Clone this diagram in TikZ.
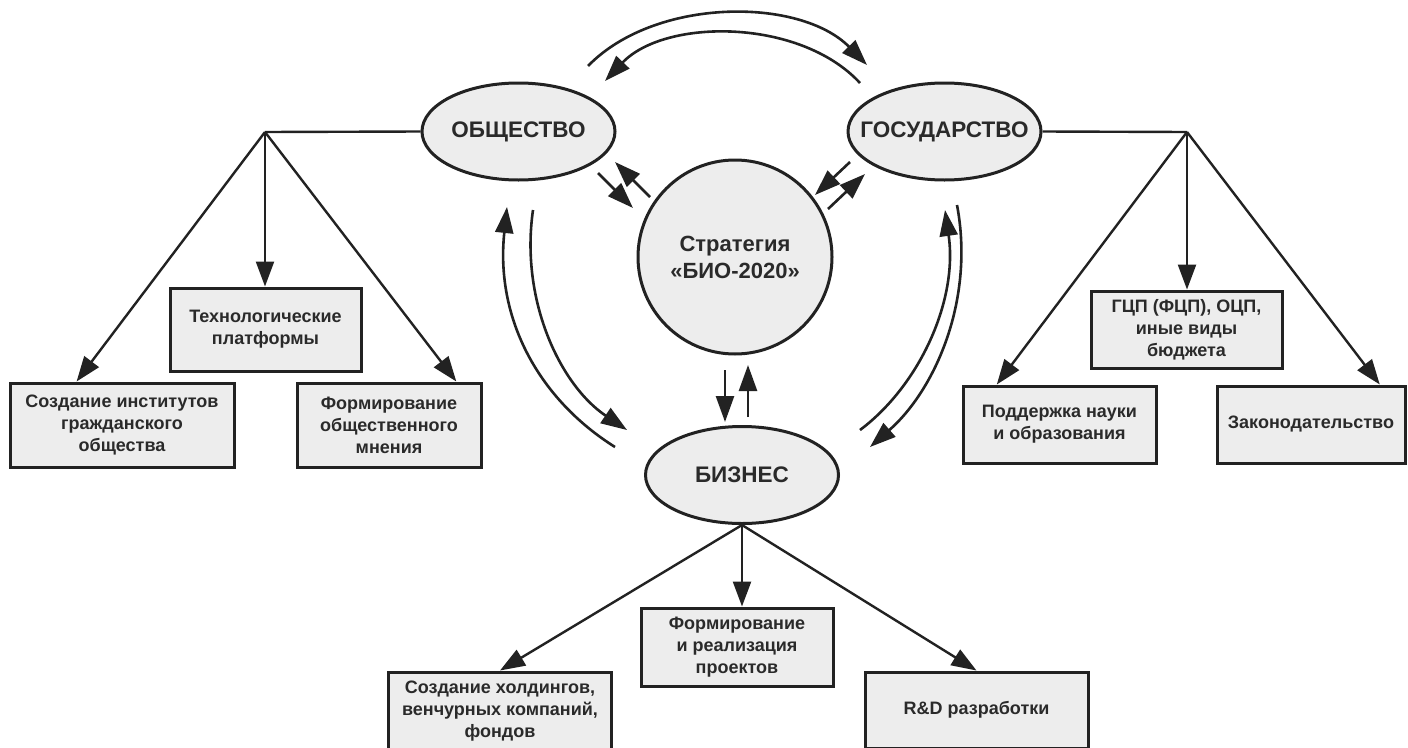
\documentclass[tikz,border=0pt]{standalone}
\usepackage{fontspec}
\setmainfont{Liberation Sans}
\usetikzlibrary{shapes.geometric,arrows.meta,calc}
\definecolor{fillg}{HTML}{EDEDED}
\definecolor{lineg}{HTML}{222222}
\definecolor{textg}{HTML}{2A2A2A}
\begin{document}
\begin{tikzpicture}[x=1pt,y=-1pt,
  ell/.style={ellipse,draw=lineg,fill=fillg,line width=3pt,minimum width=193pt,minimum height=97pt,inner sep=0pt},
  etext/.style={font=\bfseries\fontsize{22.5}{26}\selectfont,text=textg,inner sep=0pt},
  ctext/.style={font=\bfseries\fontsize{22}{27}\selectfont,text=textg,inner sep=0pt,align=center},
  boxn/.style={rectangle,draw=lineg,fill=fillg,line width=3pt,inner sep=0pt,align=center,font=\bfseries\fontsize{18}{22}\selectfont,text=textg},
  conn/.style={draw=lineg,line width=2.4pt},
  arr/.style={conn,-{Triangle[length=25pt,width=18pt]}},
  sarr/.style={conn,line width=2.6pt,-{Triangle[length=26pt,width=18pt]}},
]
\useasboundingbox (0,0) rectangle (1408,747);
\clip (0,0) rectangle (1408,747);
\fill[white] (0,0) rectangle (1408,747);

% main nodes
\node[ell] (obs) at (518.5,131.5) {};
\node[etext] (obst) at (obs) {ОБЩЕСТВО};
\node[ell] (gos) at (944.5,131.5) {};
\node[etext] (gost) at (gos) {ГОСУДАРСТВО};
\node[ell] (biz) at (742,475) {};
\node[etext] (bizt) at (biz) {БИЗНЕС};
\node[circle,draw=lineg,fill=fillg,line width=3pt,minimum size=194pt,inner sep=0pt] (str) at (735,257) {};
\node[ctext] (strt) at (str) {Стратегия\\«БИО-2020»};

% boxes
\node[boxn,minimum width=224pt,minimum height=84pt] (b1) at (122,425) {Создание институтов\\гражданского\\общества};
\node[boxn,minimum width=191pt,minimum height=83pt] (b2) at (265.5,329.5) {Технологические\\платформы};
\node[boxn,minimum width=184pt,minimum height=84pt] (b3) at (389,425) {Формирование\\общественного\\мнения};
\node[boxn,minimum width=191pt,minimum height=77pt] (b4) at (1186.5,329.5) {ГЦП (ФЦП), ОЦП,\\иные виды\\бюджета};
\node[boxn,minimum width=193pt,minimum height=77pt] (b5) at (1059.5,424.5) {Поддержка науки\\и образования};
\node[boxn,minimum width=188pt,minimum height=77pt] (b6) at (1311,424.5) {Законодательство};
\node[boxn,minimum width=192pt,minimum height=78pt] (b7) at (737,647) {Формирование\\и реализация\\проектов};
\node[boxn,minimum width=223pt,minimum height=79pt] (b8) at (500,711.5) {Создание холдингов,\\венчурных компаний,\\фондов};
\node[boxn,minimum width=223pt,minimum height=76pt] (b9) at (976.5,710) {R\&D разработки};

% left branch
\coordinate (j1) at (265,132);
\draw[conn] (obs.west) -- (j1);
\draw[arr] (j1) -- ($(b1.north west)!0.3!(b1.north east)$);
\draw[arr] (j1) -- (j1 |- b2.north);
\draw[arr] (j1) -- ($(b3.north west)!0.86!(b3.north east)$);

% right branch
\coordinate (j2) at (1187,132);
\draw[conn] (gos.east) -- (j2);
\draw[arr] (j2) -- ($(b5.north west)!0.18!(b5.north east)$);
\draw[arr] (j2) -- (j2 |- b4.north);
\draw[arr] (j2) -- ($(b6.north west)!0.86!(b6.north east)$);

% bottom branch
\draw[arr] (biz.south) -- (b8.north);
\draw[arr] (biz.south) -- (biz.south |- b7.north);
\draw[arr] (biz.south) -- (b9.north);

% top arcs
\coordinate (t1s) at (588,66);
\coordinate (t1e) at (867,65);
\coordinate (t2s) at (860,83);
\coordinate (t2e) at (605,81);
\draw[sarr] (t1s) .. controls (655,-3) and (800,-3) .. (t1e);
\draw[sarr] (t2s) .. controls (800,18) and (665,18) .. (t2e);

% left arcs
\coordinate (l1s) at (533,210);
\coordinate (l1e) at (627,430);
\coordinate (l2s) at (615,447);
\coordinate (l2e) at (507,207);
\draw[sarr] (l1s) .. controls (520,300) and (560,385) .. (l1e);
\draw[sarr] (l2s) .. controls (540,400) and (495,320) .. (l2e);

% right arcs
\coordinate (r1s) at (957,205);
\coordinate (r1e) at (870,447);
\coordinate (r2s) at (860,430);
\coordinate (r2e) at (945,210);
\draw[sarr] (r1s) .. controls (975,300) and (935,390) .. (r1e);
\draw[sarr] (r2s) .. controls (920,385) and (958,300) .. (r2e);

% short arrows
\coordinate (s1s) at (598,173); \coordinate (s1e) at (633,208);
\coordinate (s2s) at (650,197); \coordinate (s2e) at (615,162);
\coordinate (s3s) at (850,162); \coordinate (s3e) at (815,195);
\coordinate (s4s) at (828,209); \coordinate (s4e) at (865,174);
\coordinate (s5s) at (725,370); \coordinate (s5e) at (725,422);
\coordinate (s6s) at (748,417); \coordinate (s6e) at (748,365);
\draw[sarr] (s1s) -- (s1e);
\draw[sarr] (s2s) -- (s2e);
\draw[sarr] (s3s) -- (s3e);
\draw[sarr] (s4s) -- (s4e);
\draw[sarr] (s5s) -- (s5e);
\draw[sarr] (s6s) -- (s6e);
\end{tikzpicture}
\end{document}
